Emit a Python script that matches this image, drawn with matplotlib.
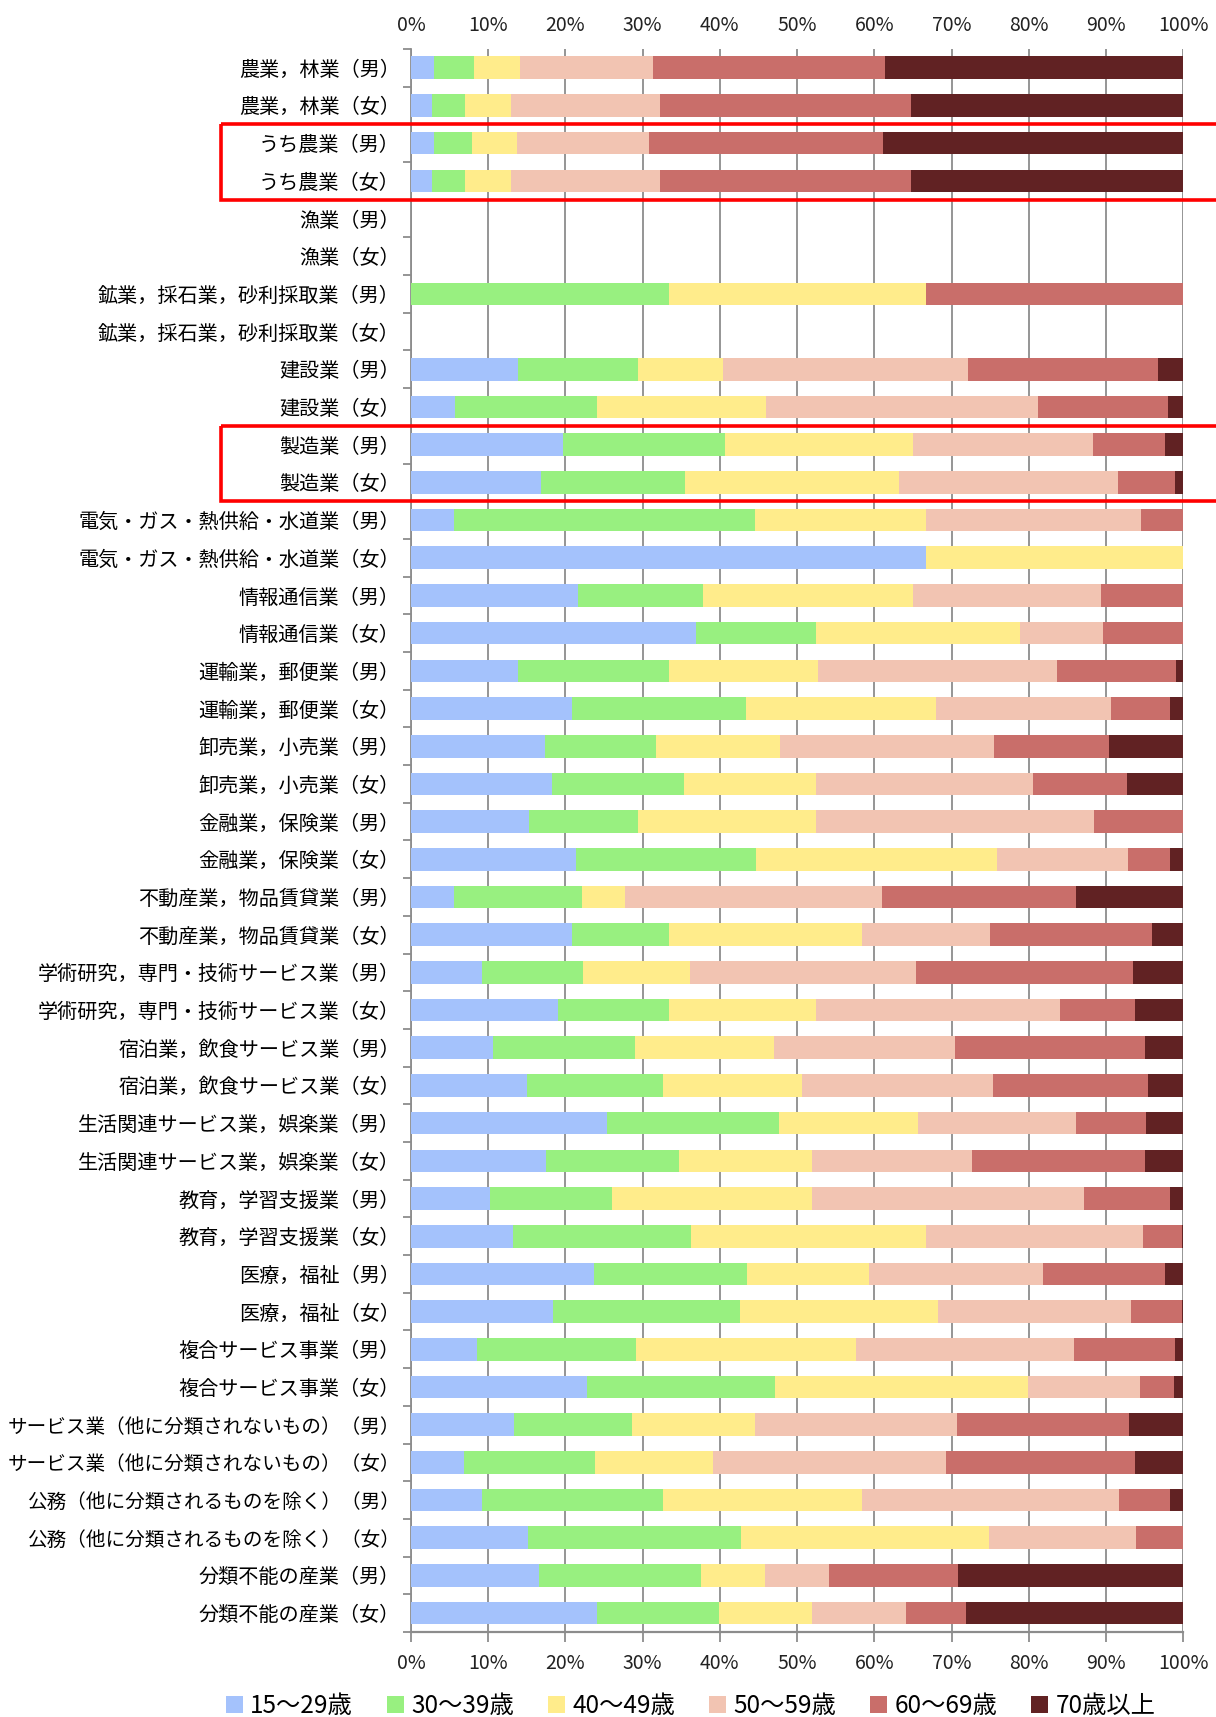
import matplotlib
matplotlib.use("Agg")
import matplotlib.pyplot as plt
import numpy as np
from matplotlib.patches import Rectangle
from matplotlib.transforms import blended_transform_factory

plt.rcParams['font.family'] = ['Noto Sans CJK JP', 'DejaVu Sans']

categories = [
    "農業，林業（男）", "農業，林業（女）",
    "うち農業（男）", "うち農業（女）",
    "漁業（男）", "漁業（女）",
    "鉱業，採石業，砂利採取業（男）", "鉱業，採石業，砂利採取業（女）",
    "建設業（男）", "建設業（女）",
    "製造業（男）", "製造業（女）",
    "電気・ガス・熱供給・水道業（男）", "電気・ガス・熱供給・水道業（女）",
    "情報通信業（男）", "情報通信業（女）",
    "運輸業，郵便業（男）", "運輸業，郵便業（女）",
    "卸売業，小売業（男）", "卸売業，小売業（女）",
    "金融業，保険業（男）", "金融業，保険業（女）",
    "不動産業，物品賃貸業（男）", "不動産業，物品賃貸業（女）",
    "学術研究，専門・技術サービス業（男）", "学術研究，専門・技術サービス業（女）",
    "宿泊業，飲食サービス業（男）", "宿泊業，飲食サービス業（女）",
    "生活関連サービス業，娯楽業（男）", "生活関連サービス業，娯楽業（女）",
    "教育，学習支援業（男）", "教育，学習支援業（女）",
    "医療，福祉（男）", "医療，福祉（女）",
    "複合サービス事業（男）", "複合サービス事業（女）",
    "サービス業（他に分類されないもの）（男）", "サービス業（他に分類されないもの）（女）",
    "公務（他に分類されるものを除く）（男）", "公務（他に分類されるものを除く）（女）",
    "分類不能の産業（男）", "分類不能の産業（女）",
]

age_groups = ["15～29歳", "30～39歳", "40～49歳", "50～59歳", "60～69歳", "70歳以上"]

# Share (%) of each age group per industry/sex
age_15_29 = [2.95, 2.75, 2.95, 2.75, 0, 0, 0, 0, 13.8, 5.7, 19.7, 16.8, 5.6, 66.7,
             21.6, 36.9, 13.8, 20.8, 17.3, 18.2, 15.3, 21.4, 5.6, 20.8, 9.2, 19.0,
             10.6, 15.0, 25.4, 17.5, 10.2, 13.2, 23.7, 18.4, 8.5, 22.8, 13.4, 6.8,
             9.2, 15.1, 16.6, 24.1]
age_30_39 = [5.2, 4.3, 5.0, 4.3, 0, 0, 33.4, 0, 15.6, 18.4, 21.0, 18.7, 38.9, 0,
             16.2, 15.6, 19.6, 22.6, 14.4, 17.1, 14.1, 23.3, 16.5, 12.6, 13.1, 14.4,
             18.4, 17.6, 22.2, 17.2, 15.8, 23.0, 19.8, 24.2, 20.7, 24.3, 15.2, 17.0,
             23.4, 27.7, 20.9, 15.8]
age_40_49 = [6.0, 5.9, 5.8, 5.9, 0, 0, 33.3, 0, 11.0, 21.9, 24.3, 27.7, 22.2, 33.3,
             27.2, 26.4, 19.3, 24.6, 16.1, 17.1, 23.1, 31.2, 5.6, 25.0, 13.8, 19.0,
             18.0, 18.0, 18.0, 17.2, 25.9, 30.5, 15.8, 25.6, 28.4, 32.8, 15.9, 15.3,
             25.8, 32.0, 8.3, 12.0]
age_50_59 = [17.2, 19.3, 17.1, 19.3, 0, 0, 0, 0, 31.7, 35.2, 23.3, 28.3, 27.9, 0,
             24.4, 10.7, 31.0, 22.6, 27.7, 28.1, 36.0, 17.0, 33.3, 16.6, 29.3, 31.7,
             23.4, 24.8, 20.5, 20.7, 35.2, 28.1, 22.6, 25.0, 28.2, 14.5, 26.2, 30.2,
             33.3, 19.1, 8.3, 12.2]
age_60_69 = [30.0, 32.5, 30.3, 32.5, 0, 0, 33.3, 0, 24.6, 16.8, 9.3, 7.4, 5.4, 0,
             10.6, 10.4, 15.4, 7.7, 14.9, 12.2, 11.5, 5.4, 25.1, 20.9, 28.1, 9.6,
             24.6, 20.0, 9.1, 22.4, 11.2, 5.1, 15.7, 6.7, 13.1, 4.4, 22.3, 24.4,
             6.6, 6.1, 16.8, 7.8]
age_70_plus = [38.65, 35.25, 38.85, 35.25, 0, 0, 0, 0, 3.3, 2.0, 2.4, 1.1, 0, 0,
               0, 0, 0.9, 1.7, 9.6, 7.3, 0, 1.7, 13.9, 4.1, 6.5, 6.3,
               5.0, 4.6, 4.8, 5.0, 1.7, 0.1, 2.4, 0.1, 1.1, 1.2, 7.0, 6.3,
               1.7, 0, 29.1, 28.1]

series = [age_15_29, age_30_39, age_40_49, age_50_59, age_60_69, age_70_plus]
colors = ["#A4C2FC", "#98F080", "#FFEC8B", "#F2C4B2", "#C96E6A", "#612223"]

tick_values = [0, 10, 20, 30, 40, 50, 60, 70, 80, 90, 100]
tick_labels = [f"{t}%" for t in tick_values]

fig = plt.figure(figsize=(12.16, 17.17), dpi=100)
ax = fig.add_axes([0.338, 0.0495, 0.635, 0.922])

y = np.arange(len(categories))
left = np.zeros(len(categories))
for vals, col, lab in zip(series, colors, age_groups):
    vals = np.asarray(vals, dtype=float)
    ax.barh(y, vals, left=left, height=0.6, color=col, label=lab,
            edgecolor="none", zorder=3)
    left += vals

ax.set_xlim(0, 100)
ax.set_ylim(len(categories) - 0.5, -0.5)

grid_col = "#8c8c8c"

# bottom axis with percent labels and vertical gridlines
ax.set_xticks(tick_values)
ax.set_xticklabels(tick_labels)
ax.xaxis.grid(True, color=grid_col, linewidth=1.3, zorder=0)
ax.tick_params(axis="x", which="major", labelsize=14, top=False,
               bottom=True, direction="out", length=7,
               width=1.3, color=grid_col, pad=8, labelcolor="#222222")

# repeated percent labels along the top
sec = ax.secondary_xaxis("top")
sec.set_xticks(tick_values)
sec.set_xticklabels(tick_labels)
sec.tick_params(length=0, pad=9, labelsize=14, labelcolor="#222222")
sec.spines["top"].set_visible(False)

ax.set_yticks(y)
ax.set_yticklabels(categories, fontsize=14.5)
for lbl in ax.get_yticklabels():
    if "）（" in lbl.get_text():
        lbl.set_fontsize(14.1)
ax.tick_params(axis="y", which="major", length=0, pad=8)
ax.set_yticks(np.arange(-0.5, len(categories), 1.0), minor=True)
ax.tick_params(axis="y", which="minor", length=6, width=1.3, color=grid_col,
               direction="out")

ax.spines["top"].set_visible(False)
ax.spines["right"].set_visible(False)
ax.spines["left"].set_color(grid_col)
ax.spines["left"].set_linewidth(1.3)
ax.spines["bottom"].set_color(grid_col)
ax.spines["bottom"].set_linewidth(1.6)

# highlight frames around selected rows
tr = blended_transform_factory(fig.transFigure, ax.transData)
for top_row in (2, 10):
    rect = Rectangle((0.182, top_row - 0.5), 0.83, 2.0, transform=tr,
                     fill=False, edgecolor="#ff0000", linewidth=2.6,
                     clip_on=False, zorder=10)
    fig.add_artist(rect)

handles, labels = ax.get_legend_handles_labels()
fig.legend(handles, labels, loc="center", bbox_to_anchor=(0.568, 0.0065),
           ncol=6, frameon=False, fontsize=17.5, handlelength=0.7,
           handleheight=0.7, handletextpad=0.3, columnspacing=1.4)

fig.savefig("out.png", dpi=100)
